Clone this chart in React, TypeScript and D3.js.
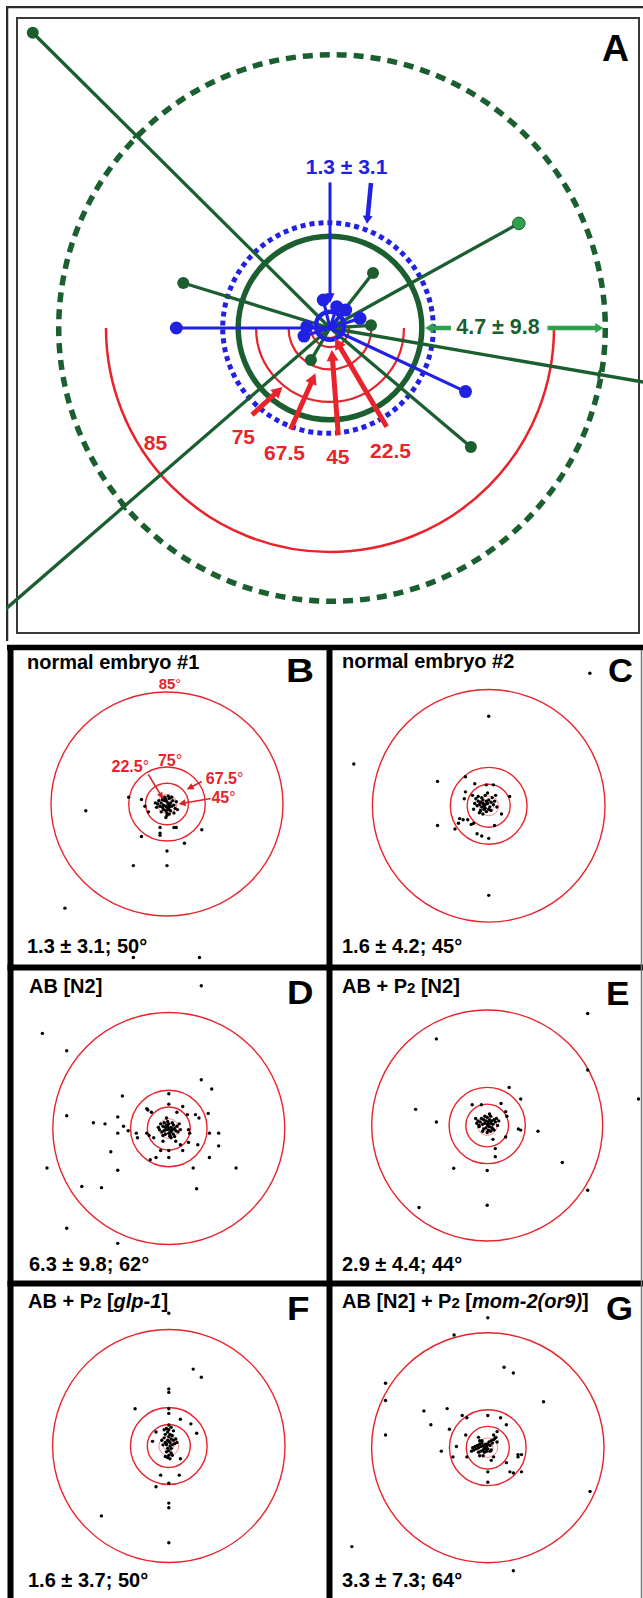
import React, { useEffect, useRef } from 'react';
import * as d3 from 'd3';

type Pt = [number, number];

const W = 643;
const H = 1598;
const FONT = '"Liberation Sans", Arial, Helvetica, sans-serif';
const RED = '#e8232b';
const GREEN = '#1b5f31';
const LIGHT_GREEN = '#2fa14d';
const BLUE = '#2121e3';

// cone angles and their projected radius (units where the 85 degree ring = 100)
const ringAngles = [22.5, 45, 67.5, 75, 85];
const ringUnits = [4.5, 8.5, 18.5, 33, 100];

// panel A: tips of individual measurements (same units)
const aGreenTips: Pt[] = [[-132.7, -131.8], [19.2, -24.6], [-65.5, -20.1], [18.3, -1.2], [-8.5, 14.3], [62.9, 53.1]];
const aLightGreenTip: Pt = [84.3, -46.7];
const aGreenRays: Pt[] = [[150, 25.9], [-150, 130]];
const aBlueTips: Pt[] = [[-68.6, 0], [60.5, 28.4], [-3, -12.5], [3, -9.5], [13.4, -4.3], [-10.4, -0.6], [-11.6, 3.6], [7, -8]];
const aGreenMean = 41;
const aGreenSd = 122;
const aBlueMean = 6.3;
const aBlueSd = 47;
const aBlueLabel = '1.3 ± 3.1';
const aGreenLabel = '4.7 ± 9.8';
const aRedLabels = ['22.5', '45', '67.5', '75', '85'];

// panels B-G: spindle orientations (same units)
const dotsB: Pt[] = [
  [-70, 6], [-33, -6], [-22, -4], [-19, 2], [-16, 7], [-22, 29], [-6, 21], [-6, 26], [-6, 28], [6, 21], [8, 21],
  [30, 23], [15, 35], [0, 42], [-29, 55], [0, 55], [-88, 93], [-29, 137], [28, 137],
  [-1, 2], [1, 0], [-3, 1], [2, 3], [0, -2], [-2, -3], [3, -1], [4, 2], [-4, 3], [1, 5], [-1, 6], [0, 8], [0, 10],
  [-1, 12], [2, -5], [-2, -6], [5, -3], [6, 1], [-5, -1], [-6, 2], [-8, 0], [7, 4], [3, 6], [-3, 5], [-4, -4],
  [1, -7], [-1, -4], [4, -6], [8, -2], [-9, 3], [-10, -1], [9, 5], [2, 9], [-5, 7], [6, 8], [-7, -3], [0, 3], [2, 1],
];
const dotsC: Pt[] = [
  [87, -114], [0, -77], [-116, -36], [-44, -21], [-44, 17], [-20, -25], [0, 77], [18, -8], [11, 7], [5, 17], [0, 28],
  [-10, 24], [-6, 26], [-29, 20], [-26, 15], [-25, 11], [-22, 12], [-18, 12], [-15, 16], [-13, 15], [-12, -19],
  [-2, -18], [4, -18], [-20, -12], [-21, -6],
  [-5, -2], [-3, -1], [-7, -3], [-4, 0], [-6, 1], [-2, -4], [-8, -1], [-5, -5], [-1, -2], [-3, 2], [-9, -4], [0, -5],
  [-6, -7], [2, -3], [-10, 0], [-4, 3], [1, 1], [-7, 4], [-11, -6], [3, -7], [-2, 5], [-8, 6], [4, -1], [-12, -2],
  [0, 3], [-5, 7], [2, 4], [-9, -8], [5, -4], [-3, -9], [6, -9], [-14, -9], [7, 1], [-1, -11], [-13, 3],
];
const dotsD: Pt[] = [
  [28, -123], [-109, -82], [-88, -67], [-88, -11], [-105, 34], [-75, 50], [-58, 51], [-88, 86], [-44, 99], [-44, 36],
  [-50, 20], [-65, -5], [-55, -4], [-44, -10], [-44, 4], [-39, -2], [-35, 2], [-40, -28], [-28, 4], [-27, 8],
  [28, -42], [37, -34], [0, -30], [-19, -17], [-18, -16], [0, -21], [12, -19], [-15, -14], [7, -14], [16, -12],
  [23, -12], [26, -9], [34, -13], [35, 4], [43, 4], [43, 15], [25, 14], [17, 12], [35, 25], [21, 34], [24, 52],
  [58, 34], [12, 19], [0, 19], [0, 25], [-7, 19], [-11, 25], [-16, 27], [-19, 4], [-17, 6], [-13, 8], [-5, 11],
  [1, 7], [6, 11], [10, 14], [17, 1], [18, 4],
  [0, 0], [2, -1], [-2, 1], [1, 2], [-1, -2], [3, 1], [-3, -1], [4, -3], [-4, 2], [2, 3], [-2, -3], [5, 0], [-5, -2],
  [0, 4], [0, -4], [6, 2], [-6, 3], [3, -5], [-3, 5], [7, -2], [-7, -4], [1, 6], [-1, -6], [8, 3], [-8, 1], [4, 5],
  [-4, -5], [9, -4], [-9, -1], [5, 7], [-5, 6], [2, 8], [-2, -9], [10, 1],
];
const dotsE: Pt[] = [
  [87, -97], [-44, -75], [87, -48], [131, -23], [-62, -14], [-44, -3], [44, 5], [65, 32], [87, 56], [-29, 37],
  [0, 39], [-59, 71], [0, 69], [7, 20], [7, 27], [5, 12], [19, -33], [29, -23], [-13, -18], [-5, -18], [12, -19],
  [16, -12], [17, -8], [27, 3], [29, 4], [16, 10], [-10, -6], [-9, -2], [-7, 1],
  [1, -3], [0, -1], [2, -5], [-1, -4], [3, -2], [-2, -2], [1, 0], [4, -4], [-3, -5], [0, -7], [2, 1], [-1, 2], [5, -1],
  [-4, -1], [3, -8], [-2, -8], [6, -5], [-5, -6], [4, 2], [-3, 3], [1, 4], [7, -3], [-6, -3], [2, -10], [8, -6],
  [-7, 0], [5, 3], [0, 6], [3, 5], [9, 0], [-8, -4], [6, 4], [-4, 5], [10, -4],
];
const dotsF: Pt[] = [
  [0, -114], [21, -66], [28, -59], [0, -49], [0, -46], [-29, -32], [0, -32], [0, -28], [10, -23], [19, -19],
  [24, -11], [-11, -12], [-14, -4], [10, 11], [-7, 25], [9, 25], [-11, 35], [0, 32], [0, 49], [0, 53], [-58, 60],
  [0, 83],
  [0, -4], [1, -3], [-1, -5], [2, -6], [-2, -2], [0, -8], [1, -10], [-1, -12], [0, -14], [2, -16], [-2, -15], [0, -18],
  [3, -1], [-3, -3], [4, -5], [-4, -7], [1, 0], [-1, 2], [0, 4], [2, 6], [-2, 5], [0, 8], [1, 11], [-1, 10], [5, -2],
  [-5, -1], [3, -9], [-3, -10], [6, -6], [-6, -5], [2, 2], [-2, -1], [4, -13], [-4, -14], [7, -3], [3, 8], [-3, 9],
];
const dotsG: Pt[] = [
  [0, -113], [-29, -98], [14, -70], [22, -65], [-88, -56], [-88, -41], [-88, -11], [48, -40], [-55, -32], [-35, -34],
  [-49, -20], [-33, -16], [-22, -28], [-18, -26], [0, -28], [11, -26], [16, -20], [8, -14], [5, -11], [-40, 3],
  [-30, 8], [-18, 8], [-27, -1], [-19, -11], [-8, -9], [26, 6], [29, 6], [26, 8], [16, 13], [19, 21], [22, 22],
  [29, 21], [0, 21], [0, 30], [3, 11], [5, 8], [-7, 7], [-4, 7], [88, 38], [-117, 86], [22, 107],
  [-4, -2], [-2, -3], [-6, -1], [-3, 0], [-5, -4], [-1, -1], [-7, -3], [-8, 0], [-2, 1], [0, -3], [-9, -2], [1, -5],
  [-10, 1], [2, -2], [-4, 2], [-6, 3], [3, -6], [-11, -1], [4, -4], [-12, 2], [5, -7], [-1, 3], [-3, 4], [6, -8],
  [-8, 4], [0, 1], [2, 3], [-5, -6], [-13, 0], [7, -9], [-7, -6], [3, 2], [-14, 3], [8, -5],
];

type Seg = { t: string; small?: boolean; italic?: boolean };
const titles: Seg[][] = [
  [{ t: 'normal embryo #1' }],
  [{ t: 'normal embryo #2' }],
  [{ t: 'AB [N2]' }],
  [{ t: 'AB + P' }, { t: '2', small: true }, { t: ' [N2]' }],
  [{ t: 'AB + P' }, { t: '2', small: true }, { t: ' [' }, { t: 'glp-1', italic: true }, { t: ']' }],
  [{ t: 'AB [N2] + P' }, { t: '2', small: true }, { t: ' [' }, { t: 'mom-2(or9)', italic: true }, { t: ']' }],
];
const stats = ['1.3 ± 3.1; 50°', '1.6 ± 4.2; 45°', '6.3 ± 9.8; 62°', '2.9 ± 4.4; 44°', '1.6 ± 3.7; 50°', '3.3 ± 7.3; 64°'];
const letters = ['B', 'C', 'D', 'E', 'F', 'G'];
const panelDots = [dotsB, dotsC, dotsD, dotsE, dotsF, dotsG];

// layout of the six lower panels
const panelBoxes = [
  { cx: 167, cy: 804, rx: 116, ry: 112, tx: 27, ty: 669, sy: 953, lx: 286, ly: 682, lw: 28 },
  { cx: 488.7, cy: 805.8, rx: 116.3, ry: 116.3, tx: 342, ty: 668, sy: 953, lx: 608, ly: 682, lw: 25 },
  { cx: 168.8, cy: 1128.5, rx: 116, ry: 116, tx: 29, ty: 993, sy: 1271, lx: 287, ly: 1003.5, lw: 26.5 },
  { cx: 487.2, cy: 1125.5, rx: 115.5, ry: 115.5, tx: 342, ty: 993, sy: 1271, lx: 606, ly: 1005, lw: 23.5 },
  { cx: 168.8, cy: 1446, rx: 116.2, ry: 116.5, tx: 28, ty: 1308, sy: 1587, lx: 287, ly: 1320, lw: 22.5 },
  { cx: 487.8, cy: 1447.7, rx: 116.2, ry: 115, tx: 342, ty: 1308, sy: 1587, lx: 606, ly: 1320, lw: 27 },
];

function arrow(g: any, x1: number, y1: number, x2: number, y2: number, color: string, width: number, headLen: number, headW: number) {
  const dx = x2 - x1;
  const dy = y2 - y1;
  const len = Math.hypot(dx, dy);
  const ux = dx / len;
  const uy = dy / len;
  const bx = x2 - ux * headLen;
  const by = y2 - uy * headLen;
  g.append('line')
    .attr('x1', x1).attr('y1', y1)
    .attr('x2', bx + ux).attr('y2', by + uy)
    .attr('stroke', color).attr('stroke-width', width);
  g.append('polygon')
    .attr('points', [[x2, y2], [bx - (uy * headW) / 2, by + (ux * headW) / 2], [bx + (uy * headW) / 2, by - (ux * headW) / 2]]
      .map((p) => p.join(',')).join(' '))
    .attr('fill', color);
}

function drawPanelA(svg: any) {
  const cx = 330;
  const cy = 328;
  const unit = 2.24;
  const x = d3.scaleLinear().domain([-100, 100]).range([cx - 100 * unit, cx + 100 * unit]);
  const y = d3.scaleLinear().domain([-100, 100]).range([cy - 100 * unit, cy + 100 * unit]);
  const r = (u: number) => x(u) - x(0);

  svg.append('clipPath').attr('id', 'clipA')
    .append('rect').attr('x', 6).attr('y', 6).attr('width', 637).attr('height', 635);
  const g = svg.append('g').attr('clip-path', 'url(#clipA)');

  // frames
  g.append('rect').attr('x', 7).attr('y', 7).attr('width', 640).attr('height', 640)
    .attr('fill', 'none').attr('stroke', '#2b2b2b').attr('stroke-width', 2.5);
  g.append('rect').attr('x', 17).attr('y', 18).attr('width', 622).attr('height', 615)
    .attr('fill', 'none').attr('stroke', '#3a3a3a').attr('stroke-width', 2);

  // SD ring of the green set
  g.append('circle').attr('cx', x(0) + 2).attr('cy', y(0)).attr('r', r(aGreenSd))
    .attr('fill', 'none').attr('stroke', GREEN).attr('stroke-width', 5.5).attr('stroke-dasharray', '10 7');

  // half rings of cone angles
  ringUnits.forEach((u, i) => {
    const p = d3.path();
    p.moveTo(x(-u), y(0));
    p.arc(x(0), y(0), r(u), Math.PI, 0, true);
    g.append('path').attr('d', p.toString()).attr('fill', 'none').attr('stroke', RED)
      .attr('stroke-width', ringAngles[i] === 85 ? 2.5 : 2.2);
  });

  g.append('circle').attr('cx', x(0)).attr('cy', y(0)).attr('r', r(aGreenMean))
    .attr('fill', 'none').attr('stroke', GREEN).attr('stroke-width', 5.5);
  g.append('circle').attr('cx', x(0) - 2).attr('cy', y(0)).attr('r', r(aBlueSd))
    .attr('fill', 'none').attr('stroke', BLUE).attr('stroke-width', 5).attr('stroke-dasharray', '5 4');

  // green rays leaving the frame
  const tick = (tx: number, ty: number) => {
    const len = Math.hypot(tx, ty);
    const px = x((tx / len) * aGreenSd);
    const py = y((ty / len) * aGreenSd);
    const nx = -ty / len;
    const ny = tx / len;
    g.append('line').attr('x1', px - nx * 4).attr('y1', py - ny * 4).attr('x2', px + nx * 4).attr('y2', py + ny * 4)
      .attr('stroke', GREEN).attr('stroke-width', 3);
  };
  aGreenRays.forEach(([tx, ty]) => {
    g.append('line').attr('x1', x(0)).attr('y1', y(0)).attr('x2', x(tx)).attr('y2', y(ty))
      .attr('stroke', GREEN).attr('stroke-width', 3.3);
    tick(tx, ty);
  });
  aGreenTips.forEach(([tx, ty]) => {
    g.append('line').attr('x1', x(0)).attr('y1', y(0)).attr('x2', x(tx)).attr('y2', y(ty))
      .attr('stroke', GREEN).attr('stroke-width', 3.3);
    if (Math.hypot(tx, ty) > aGreenSd) tick(tx, ty);
  });
  g.append('line').attr('x1', x(0)).attr('y1', y(0)).attr('x2', x(aLightGreenTip[0])).attr('y2', y(aLightGreenTip[1]))
    .attr('stroke', GREEN).attr('stroke-width', 3.3);

  aBlueTips.forEach(([tx, ty]) => {
    g.append('line').attr('x1', x(0)).attr('y1', y(0)).attr('x2', x(tx)).attr('y2', y(ty))
      .attr('stroke', BLUE).attr('stroke-width', 3.2);
  });
  g.append('circle').attr('cx', x(0)).attr('cy', y(-1)).attr('r', r(aBlueMean))
    .attr('fill', 'none').attr('stroke', BLUE).attr('stroke-width', 4.5);

  aGreenTips.forEach(([tx, ty]) => {
    g.append('circle').attr('cx', x(tx)).attr('cy', y(ty)).attr('r', 6).attr('fill', GREEN);
  });
  g.append('circle').attr('cx', x(aLightGreenTip[0])).attr('cy', y(aLightGreenTip[1])).attr('r', 6.3)
    .attr('fill', LIGHT_GREEN).attr('stroke', GREEN).attr('stroke-width', 1);
  aBlueTips.forEach(([tx, ty]) => {
    g.append('circle').attr('cx', x(tx)).attr('cy', y(ty)).attr('r', 6.5).attr('fill', BLUE);
  });

  // annotations
  arrow(g, x(0), y(-65), x(0), y(-11), BLUE, 3, 10, 9);
  arrow(g, x(18.3), y(-64.7), x(16.5), y(-46.5), BLUE, 4.5, 8, 10);
  g.append('text').attr('x', x(7.4)).attr('y', y(-68.6)).attr('text-anchor', 'middle')
    .attr('font-family', FONT).attr('font-weight', 'bold').attr('font-size', 21).attr('fill', BLUE).text(aBlueLabel);

  arrow(g, x(54), y(0), x(aGreenMean + 1.5), y(0), LIGHT_GREEN, 4.5, 8, 10);
  arrow(g, x(97.1), y(0), x(aGreenSd), y(0), LIGHT_GREEN, 4.5, 8, 10);
  g.append('text').attr('x', x(75)).attr('y', y(2.9)).attr('text-anchor', 'middle')
    .attr('font-family', FONT).attr('font-weight', 'bold').attr('font-size', 21.5).attr('fill', GREEN).text(aGreenLabel);

  const redLabelPos: Pt[] = [[27, 54.5], [3.5, 57.4], [-20.3, 55.5], [-38.7, 48.6], [-77.9, 50.9]];
  const redArrowFrom: Pt[] = [[25.3, 44.1], [3.7, 47.8], [-17.6, 45.3], [-34.8, 38.8]];
  const redArrowTo: Pt[] = [[2.2, 4.6], [0.8, 9.8], [-6.5, 20.2], [-21.2, 26.3]];
  redArrowFrom.forEach(([fx, fy], i) => {
    arrow(g, x(fx), y(fy), x(redArrowTo[i][0]), y(redArrowTo[i][1]), RED, 5, 11, 12);
  });
  aRedLabels.forEach((t, i) => {
    g.append('text').attr('x', x(redLabelPos[i][0])).attr('y', y(redLabelPos[i][1]) + 7.5)
      .attr('text-anchor', 'middle').attr('font-family', FONT).attr('font-weight', 'bold')
      .attr('font-size', 21).attr('fill', RED).text(t);
  });

  svg.append('text').attr('x', 602).attr('y', 61).attr('font-family', FONT).attr('font-weight', 'bold')
    .attr('font-size', 36).attr('textLength', 27).attr('lengthAdjust', 'spacingAndGlyphs').text('A');
}

function drawPanel(svg: any, i: number) {
  const b = panelBoxes[i];
  const x = d3.scaleLinear().domain([-100, 100]).range([b.cx - b.rx, b.cx + b.rx]);
  const y = d3.scaleLinear().domain([-100, 100]).range([b.cy - b.ry, b.cy + b.ry]);
  const g = svg.append('g');

  ringUnits.forEach((u, k) => {
    g.append('ellipse').attr('cx', x(0)).attr('cy', y(0))
      .attr('rx', x(u) - x(0)).attr('ry', y(u) - y(0))
      .attr('fill', 'none').attr('stroke', RED)
      .attr('stroke-width', k < 2 ? 0.9 : 1.4)
      .attr('stroke-opacity', k < 2 ? 0.6 : 1);
  });

  g.selectAll('circle.dot').data(panelDots[i]).enter().append('circle')
    .attr('class', 'dot')
    .attr('cx', (d: Pt) => x(d[0])).attr('cy', (d: Pt) => y(d[1]))
    .attr('r', 1.7).attr('fill', '#000');

  if (i === 0) {
    const lab = (t: string, ux: number, uy: number, size: number) => {
      const tx = g.append('text').attr('x', x(ux)).attr('y', y(uy)).attr('text-anchor', 'middle')
        .attr('font-family', FONT).attr('font-size', size).attr('fill', RED);
      tx.append('tspan').attr('font-weight', 'bold').text(t);
      tx.append('tspan').attr('font-weight', 'normal').text('°');
    };
    lab('85', 2.6, -102.6, 15);
    lab('75', 2.6, -34.2, 16);
    lab('22.5', -31.6, -28.4, 16);
    lab('67.5', 49.6, -17.8, 16);
    lab('45', 48.7, -0.6, 16);
    arrow(g, x(-16.1), y(-26.5), x(-3.2), y(-4.3), '#d4232b', 1.6, 7, 6);
    arrow(g, x(29.9), y(-20.1), x(17), y(-12.9), '#d4232b', 1.6, 7, 7);
    arrow(g, x(37.7), y(-4.9), x(10), y(0), '#d4232b', 1.6, 7, 7);
  }

  const t = g.append('text').attr('x', b.tx).attr('y', b.ty).attr('font-family', FONT)
    .attr('font-weight', 'bold').attr('font-size', 20).style('white-space', 'pre');
  titles[i].forEach((s) => {
    const sp = t.append('tspan').text(s.t);
    if (s.small) sp.attr('font-size', 15);
    if (s.italic) sp.attr('font-style', 'italic');
  });

  g.append('text').attr('x', b.tx).attr('y', b.sy).attr('font-family', FONT)
    .attr('font-weight', 'bold').attr('font-size', 20).text(stats[i]);

  g.append('text').attr('x', b.lx).attr('y', b.ly).attr('font-family', FONT).attr('font-weight', 'bold')
    .attr('font-size', 34).attr('textLength', b.lw).attr('lengthAdjust', 'spacingAndGlyphs').text(letters[i]);
}

function drawGrid(svg: any) {
  const g = svg.append('g').attr('stroke', '#000');
  g.append('line').attr('x1', 7).attr('y1', 647.5).attr('x2', W).attr('y2', 647.5).attr('stroke-width', 5.5);
  g.append('line').attr('x1', 10.5).attr('y1', 645).attr('x2', 10.5).attr('y2', H).attr('stroke-width', 6);
  g.append('line').attr('x1', 329.5).attr('y1', 645).attr('x2', 329.5).attr('y2', H).attr('stroke-width', 6);
  [967.5, 1283.5].forEach((yy) => {
    g.append('line').attr('x1', 7.5).attr('y1', yy).attr('x2', W).attr('y2', yy).attr('stroke-width', 6);
  });
  g.append('line').attr('x1', 641.5).attr('y1', 650).attr('x2', 641.5).attr('y2', H)
    .attr('stroke', '#777').attr('stroke-width', 1.5);
}

export default function App() {
  const ref = useRef<SVGSVGElement>(null);

  useEffect(() => {
    if (!ref.current) return;
    const svg = d3.select(ref.current);
    svg.selectAll('*').remove();
    drawPanelA(svg);
    for (let i = 0; i < 6; i++) drawPanel(svg, i);
    drawGrid(svg);
  }, []);

  return (
    <svg
      ref={ref}
      width={W}
      height={H}
      style={{ position: 'absolute', left: 0, top: 0, background: '#fff' }}
    />
  );
}
